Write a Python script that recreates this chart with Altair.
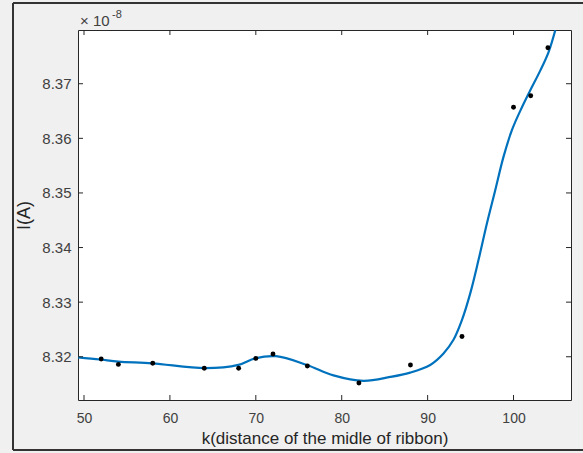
import altair as alt
import pandas as pd

# measured data points (I in units of 1e-8 A)
pt_x = [52, 54, 58, 64, 68, 70, 72, 76, 82, 88, 94, 100, 102, 104]
pt_y = [8.3196, 8.3186, 8.3188, 8.3179, 8.3179, 8.3197, 8.3205, 8.3183,
        8.3152, 8.3185, 8.3237, 8.3657, 8.3678, 8.3766]

# fitted smoothing curve
curve_x = [49.27, 51.86, 54.0, 57.95, 64.09, 67.97, 69.91, 72.36, 75.94, 79.04,
           82.53, 85.64, 87.97, 90.30, 91.85, 93.01, 93.99, 94.96, 95.92, 96.90,
           97.87, 98.83, 99.81, 100.98, 101.95, 103.11, 104.08, 104.86]
curve_y = [8.3199, 8.3195, 8.3191, 8.3188, 8.3179, 8.3185, 8.3197, 8.3201, 8.3185,
           8.3166, 8.3156, 8.3163, 8.3171, 8.3185, 8.3206, 8.3231, 8.3267, 8.3316,
           8.3377, 8.3444, 8.3505, 8.3566, 8.3615, 8.3657, 8.3688, 8.3724, 8.3758,
           8.3798]

x_ticks = [50, 60, 70, 80, 90, 100]
y_ticks = [8.32, 8.33, 8.34, 8.35, 8.36, 8.37]

W, H = 493, 370
FONT = "Liberation Sans"
xscale = alt.Scale(domain=[49.30, 106.69], zero=False, nice=False)
yscale = alt.Scale(domain=[8.31208, 8.37984], zero=False, nice=False)
xax = alt.Axis(values=x_ticks, title="k(distance of the midle of ribbon)",
               labelPadding=11, titlePadding=5, format="d",
               labelFontSize=14, titleFontSize=17)
yax = alt.Axis(values=y_ticks, title="I(A)", format=".2f",
               labelPadding=7, titlePadding=8,
               labelFontSize=15, titleFontSize=18)

pts = pd.DataFrame({"k": pt_x, "I": pt_y})
cur = pd.DataFrame({"k": curve_x, "I": curve_y})
xt = pd.DataFrame({"k": x_ticks})
yt = pd.DataFrame({"I": y_ticks})
one = pd.DataFrame({"a": [0]})

X = alt.X("k:Q", scale=xscale, axis=xax)
Y = alt.Y("I:Q", scale=yscale, axis=yax)

line = alt.Chart(cur).mark_line(color="#0072BD", strokeWidth=2.2,
                                interpolate="catmull-rom", clip=True).encode(x=X, y=Y)

points = alt.Chart(pts).mark_circle(color="black", size=24, opacity=1).encode(x=X, y=Y)

tick_len = 5
xt_bot = alt.Chart(xt).mark_rule(color="#262626").encode(
    x=X, y=alt.value(H), y2=alt.value(H - tick_len))
xt_top = alt.Chart(xt).mark_rule(color="#262626").encode(
    x=X, y=alt.value(0), y2=alt.value(tick_len))
yt_left = alt.Chart(yt).mark_rule(color="#262626").encode(
    y=Y, x=alt.value(0), x2=alt.value(tick_len))
yt_right = alt.Chart(yt).mark_rule(color="#262626").encode(
    y=Y, x=alt.value(W), x2=alt.value(W - tick_len))

# exponent label
exp_base = alt.Chart(one).mark_text(text="× 10", font=FONT, fontSize=15, color="#404040",
                                    align="left", baseline="alphabetic").encode(
    x=alt.value(2), y=alt.value(-4))
exp_sup = alt.Chart(one).mark_text(text="-8", font=FONT, fontSize=11, color="#404040",
                                   align="left", baseline="alphabetic").encode(
    x=alt.value(34), y=alt.value(-12))

# figure window frame
frame_l = alt.Chart(one).mark_rule(color="#333333", strokeWidth=2).encode(
    x=alt.value(-65), y=alt.value(-27), y2=alt.value(420))
frame_t = alt.Chart(one).mark_rule(color="#333333", strokeWidth=2).encode(
    x=alt.value(-65), x2=alt.value(W + 20), y=alt.value(-27))
frame_b = alt.Chart(one).mark_rule(color="#333333", strokeWidth=2).encode(
    x=alt.value(-65), x2=alt.value(W + 20), y=alt.value(420))

chart = alt.layer(
    line, points, xt_bot, xt_top, yt_left, yt_right, exp_base, exp_sup,
    frame_l, frame_t, frame_b
).properties(
    width=W, height=H,
    autosize=alt.AutoSizeParams(type="none"),
    padding={"left": 78, "top": 30, "right": 12, "bottom": 53},
    background="#f0f0f0",
).configure_view(
    stroke="#262626", strokeWidth=1, fill="white"
).configure_axis(
    grid=False, domain=False, ticks=False, tickSize=0,
    labelFont=FONT, labelColor="#404040",
    titleFont=FONT, titleFontWeight="normal", titleColor="#262626",
)

chart.save("out.html", embed_options={"renderer": "svg", "actions": False})
